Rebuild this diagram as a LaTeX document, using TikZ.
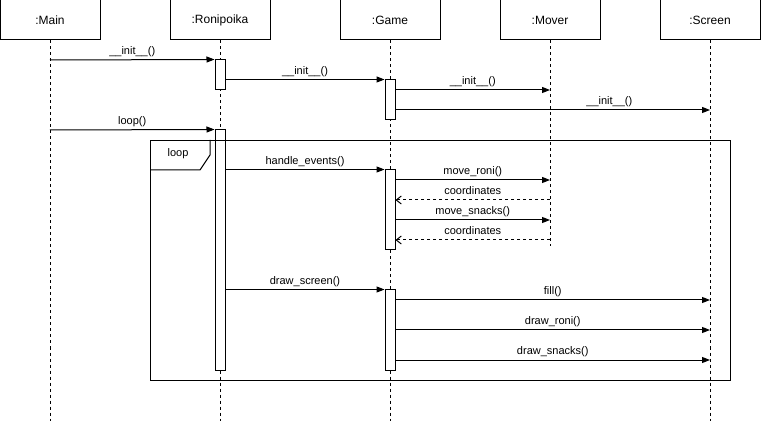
\documentclass[tikz,border=0pt]{standalone}
\usepackage{fontspec}
\setmainfont{Liberation Sans}
\usetikzlibrary{arrows.meta,positioning}

\tikzset{
  head/.style={draw, fill=white, minimum width=100pt, minimum height=40pt, font=\fontsize{12}{14}\selectfont},
  act/.style={draw, fill=white, minimum width=10pt, inner sep=0pt},
  life/.style={dash pattern=on 3pt off 3pt},
  msg/.style={-{Triangle[length=8pt,width=6pt]}},
  ret/.style={dash pattern=on 3pt off 3pt, -{Straight Barb[length=5pt,width=8pt]}},
  lbl/.style={above, inner sep=1pt, yshift=1pt, text height=8pt, text depth=2.5pt, font=\fontsize{11}{13}\selectfont},
}

\begin{document}
\begin{tikzpicture}[x=1pt, y=-1pt, line width=1pt]
          \useasboundingbox (0,0) rectangle (761,422);
          % objects
          \node[head] (main) at (50,20) {:Main};
          \node[head] (roni) at (220,20) {:Ronipoika};
          \node[head] (game) at (390,20) {:Game};
          \node[head] (mover) at (550,20) {:Mover};
          \node[head] (screen) at (710,20) {:Screen};
          % lifelines
          \foreach \n/\len in {main/380, roni/380, game/380, mover/206, screen/380}{
            \path (\n.south) ++(0,\len) coordinate (\n-end);
            \draw[life] (\n) -- (\n-end);
          }
          % activations
          \node[act, minimum height=30pt] (r1) at (220,75) {};
          \node[act, minimum height=240pt] (r2) at (220,250) {};
          \node[act, minimum height=40pt] (g1) at (390,100) {};
          \node[act, minimum height=80pt] (g2) at (390,210) {};
          \node[act, minimum height=80pt] (g3) at (390,330) {};
          % points on lifelines
          \coordinate (m1) at (50,60);
          \coordinate (m2) at (50,130);
          \coordinate (mv1) at (550,90);
          \coordinate (mv2) at (550,180);
          \coordinate (mv3) at (550,200);
          \coordinate (mv4) at (550,220);
          \coordinate (mv5) at (550,240);
          \coordinate (sc1) at (710,110);
          \coordinate (sc2) at (710,300);
          \coordinate (sc3) at (710,330);
          \coordinate (sc4) at (710,360);
          % messages
          \draw[msg] (m1) -- node[lbl]{\_\_init\_\_()} (r1.north west);
          \draw[msg] (r1.east |- g1.north) -- node[lbl]{\_\_init\_\_()} (g1.north west);
          \draw[msg] (g1.east |- mv1) -- node[lbl]{\_\_init\_\_()} (mv1);
          \draw[msg] (g1.east |- sc1) -- node[lbl, pos=0.68]{\_\_init\_\_()} (sc1);
          \draw[msg] (m2) -- node[lbl]{loop()} (r2.north west);
          \draw[msg] (r2.east |- g2.north) -- node[lbl]{handle\_events()} (g2.north west);
          \draw[msg] (g2.east |- mv2) -- node[lbl]{move\_roni()} (mv2);
          \draw[ret] (mv3) -- node[lbl]{coordinates} (g2.east |- mv3);
          \draw[msg] (g2.east |- mv4) -- node[lbl]{move\_snacks()} (mv4);
          \draw[ret] (mv5) -- node[lbl]{coordinates} (g2.east |- mv5);
          \draw[msg] (r2.east |- g3.north) -- node[lbl]{draw\_screen()} (g3.north west);
          \draw[msg] (g3.east |- sc2) -- node[lbl]{fill()} (sc2);
          \draw[msg] (g3.east |- sc3) -- node[lbl]{draw\_roni()} (sc3);
          \draw[msg] (g3.east |- sc4) -- node[lbl]{draw\_snacks()} (sc4);
          % loop frame
          \node[draw, minimum width=580pt, minimum height=240pt, anchor=north west, inner sep=0pt] (frame) at (150,140) {};
          \draw (frame.north west) ++(0,30) -- ++(50,0) -- ++(10,-15) -- ++(0,-15);
          \node[font=\fontsize{11}{13}\selectfont] (looplbl) at (178,154) {loop};
        \end{tikzpicture}
\end{document}
